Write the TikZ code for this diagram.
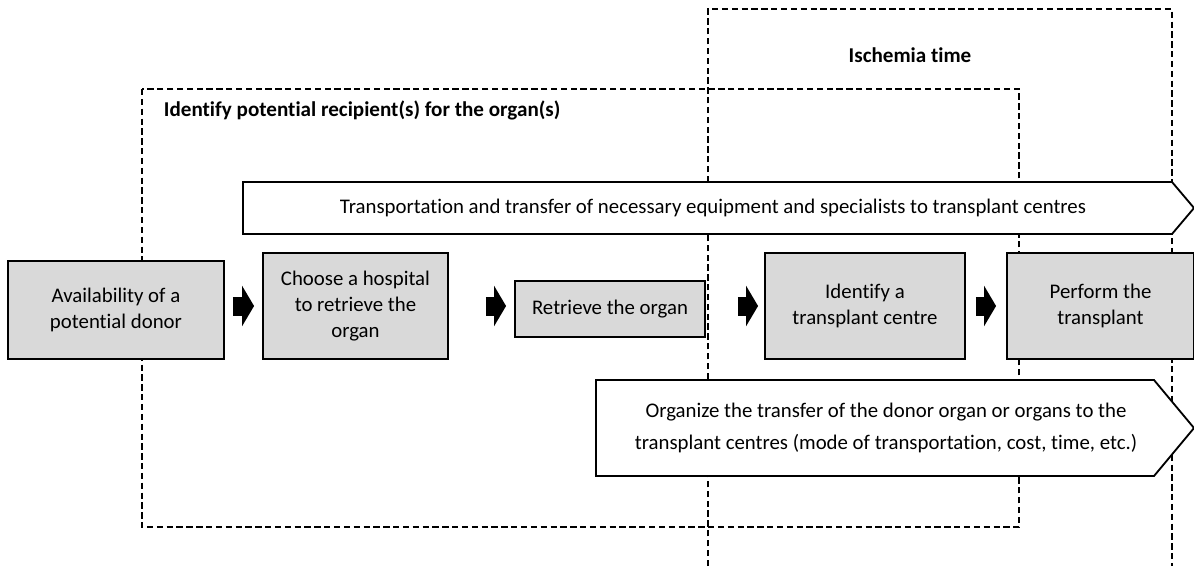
\documentclass[tikz,border=0pt]{standalone}
\usepackage{fontspec}
\setmainfont{Carlito}[Ligatures=NoCommon]
\usepackage{tikz}
\usetikzlibrary{positioning, arrows.meta}

\begin{document}
\begin{tikzpicture}[
    x=0.025cm, y=-0.025cm,
    box/.style={
        rectangle,
        draw=black,
        fill=gray!30,
        line width=1.3pt,
        align=center,
        font=\fontsize{14.8}{18.6}\selectfont,
        inner sep=2pt
    },
    frame/.style={
        draw=black,
        line width=1.3pt,
        dash pattern=on 4.5pt off 2.5pt
    },
    pent/.style={
        draw=black,
        fill=white,
        line width=1.3pt
    },
    lbl/.style={
        align=center,
        font=\fontsize{14.8}{22.6}\selectfont
    },
    head/.style={
        font=\bfseries\fontsize{15}{18}\selectfont
    },
    blk/.style={
        line width=0.475cm,
        -{Triangle[length=0.3cm,width=1cm]}
    }
]
\useasboundingbox (0,0) rectangle (1194,567);

\draw[frame] (708,566) -- (708,9) -- (1172,9) -- (1172,566);
\draw[frame] (142,89) rectangle (1019,527);

\node[head] (isch) at (910,55) {Ischemia time};
\node[head, anchor=west] (recip) at (159,110) {Identify potential recipient(s) for the organ(s)};

\draw[pent] (243,182) -- (1172,182) -- (1194,208) -- (1172,234) -- (243,234) -- cycle;
\node[lbl] (trans) at (713,208) {Transportation and transfer of necessary equipment and specialists to transplant centres};

\draw[pent] (596,380) -- (1154,380) -- (1194,428) -- (1154,476) -- (596,476) -- cycle;
\node[lbl] (organize) at (886,428) {Organize the transfer of the donor organ or organs to the\\transplant centres (mode of transportation, cost, time, etc.)};

\node[box, minimum width=5.4cm, minimum height=2.45cm] (donor) at (116,310) {Availability of a\\potential donor};
\node[box, minimum width=4.625cm, minimum height=2.65cm] (hosp) at (355.5,306) {Choose a hospital\\to retrieve the\\organ};
\node[box, minimum width=4.75cm, minimum height=1.4cm] (retr) at (610,309) {Retrieve the organ};
\node[box, minimum width=5cm, minimum height=2.65cm] (ident) at (865,306) {Identify a\\transplant centre};
\node[box, minimum width=4.675cm, minimum height=2.65cm] (perf) at (1100.5,306) {Perform the\\transplant};

\draw[blk, shorten <=0.2cm, shorten >=0.2cm] (donor.east |- hosp.center) -- (hosp.west);
\draw[blk, shorten <=0.925cm, shorten >=0.2cm] (hosp.east) -- (hosp.east -| retr.west);
\draw[blk, shorten <=0.8cm, shorten >=0.15cm] (retr.east |- ident.center) -- (ident.west);
\draw[blk, shorten <=0.25cm, shorten >=0.25cm] (ident.east) -- (perf.west);

\end{tikzpicture}
\end{document}
